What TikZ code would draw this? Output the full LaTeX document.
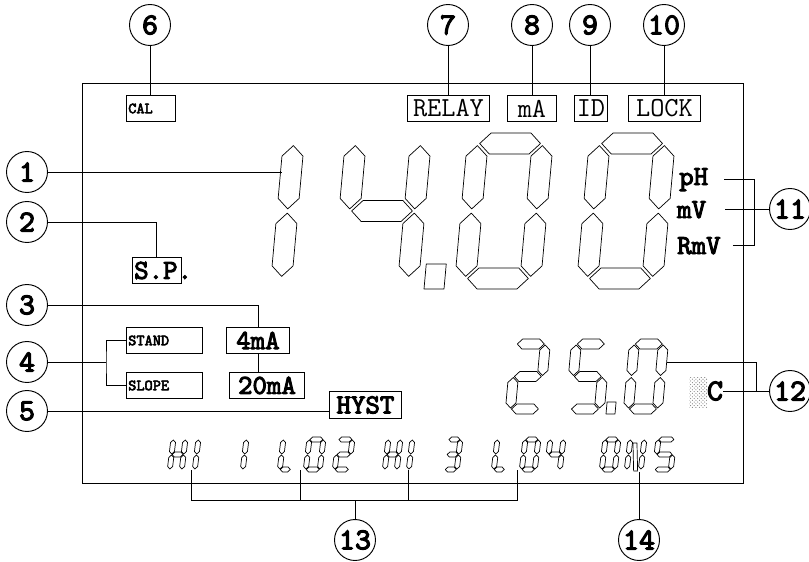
\documentclass[tikz,border=0pt]{standalone}
\usepackage{fontspec}
\newfontfamily\lcdbold[FakeBold=3.5]{lmmono10-regular.otf}
\usetikzlibrary{patterns}
\newcommand\px{0.03cm}
\newcommand\lcdfont{\ttfamily}
\newcommand\lcdbig{\lcdfont\fontsize{23.5}{25}\selectfont}
\newcommand\lcdbigb{\lcdbold\fontsize{23.5}{25}\selectfont}
\newcommand\lcdsmall{\lcdbold\fontsize{13.3}{14}\selectfont}
\tikzset{
  seg/.style={draw=black, line width=0.6pt, line join=round},
  frame/.style={draw=black, line width=0.8pt},
  wire/.style={draw=black, line width=0.8pt},
  num/.style={circle, draw, line width=0.8pt, minimum size=41*\px, inner sep=0pt,
              font=\lcdbold\fontsize{26}{26}\selectfont},
  tagc/.style={draw, line width=0.8pt, anchor=north west, minimum width=#1*\px,
               minimum height=26*\px, inner sep=0pt},
  tagl/.style={draw, line width=0.8pt, anchor=north west, text width=#1,
               minimum height=26*\px, inner xsep=1.5pt, inner ysep=0pt, align=left},
  unit/.style={font=\lcdbigb, inner sep=0pt, anchor=base west}
}
% one segment, horizontal / vertical
\newcommand\hseg[1]{\draw[seg] ({\digT/2+\digG},{#1}) -- ({\digT+\digG},{#1+\digT/2})
  -- ({\digW-\digT-\digG},{#1+\digT/2}) -- ({\digW-\digT/2-\digG},{#1})
  -- ({\digW-\digT-\digG},{#1-\digT/2}) -- ({\digT+\digG},{#1-\digT/2}) -- cycle;}
\newcommand\vseg[3]{\draw[seg] ({#1+\digT/2},{#2+\digG}) -- ({#1+\digT},{#2+\digT/2+\digG})
  -- ({#1+\digT},{#3-\digT/2-\digG}) -- ({#1+\digT/2},{#3-\digG})
  -- ({#1},{#3-\digT/2-\digG}) -- ({#1},{#2+\digT/2+\digG}) -- cycle;}
\newcommand\lcdsegA{\hseg{\digH-\digT/2}}
\newcommand\lcdsegG{\hseg{\digH/2}}
\newcommand\lcdsegD{\hseg{\digT/2}}
\newcommand\lcdsegF{\vseg{0}{\digH/2}{\digH-\digT/2}}
\newcommand\lcdsegB{\vseg{\digW-\digT}{\digH/2}{\digH-\digT/2}}
\newcommand\lcdsegE{\vseg{0}{\digT/2}{\digH/2}}
\newcommand\lcdsegC{\vseg{\digW-\digT}{\digT/2}{\digH/2}}
\newcommand\lcdsegN{\draw[seg] ({\digT*1.1},{\digH-\digT*1.2}) -- ({\digT*1.9},{\digH-\digT*1.2})
  -- ({\digW-\digT*1.1},{\digT*0.2}) -- ({\digW-\digT*1.9},{\digT*0.2}) -- cycle;}
% x0, y0 (bottom left), slant, width, height, thickness, segments
\newcommand\lcd[7]{%
  \begin{scope}[shift={(#1,#2)}, xslant=#3, yscale=-1]
    \def\digW{#4}\def\digH{#5}\def\digT{#6}\pgfmathsetmacro\digG{0.1*#6}
    \foreach \segname in {#7}{\csname lcdseg\segname\endcsname}
  \end{scope}}

\begin{document}
\begin{tikzpicture}[x=0.03cm, y=-0.03cm]
  \useasboundingbox (0,0) rectangle (809,562);
  \draw[frame] (82,83) rectangle (743,483);

  % main reading
  \lcd{205}{289}{0.09}{86}{156}{21}{B,C}
  \lcd{332}{289}{0.09}{86}{156}{21}{B,C,F,G}
  \lcd{454}{289}{0.09}{86}{156}{21}{A,B,C,D,E,F}
  \lcd{576}{289}{0.09}{86}{156}{21}{A,B,C,D,E,F}
  \begin{scope}[shift={(424,289)}, xslant=0.09, yscale=-1]
    \draw[seg] (0,0) rectangle (20,25);
  \end{scope}

  % temperature
  \lcd{505}{414}{0.09}{39}{75}{10}{A,B,G,E,D}
  \lcd{565}{414}{0.09}{39}{75}{10}{A,F,G,C,D}
  \lcd{623}{414}{0.09}{39}{75}{10}{A,B,C,D,E,F}
  \begin{scope}[shift={(606,414)}, xslant=0.09, yscale=-1]
    \draw[seg] (0,0) rectangle (9,12);
  \end{scope}

  % relay line
  \lcd{167}{472}{0.12}{17}{35}{5}{B,C,E,F,G}
  \lcd{192}{472}{0.12}{17}{35}{5}{E,F}
  \lcd{240}{472}{0.12}{17}{35}{5}{E,F}
  \lcd{277}{472}{0.12}{16}{35}{5}{D,E,F}
  \lcd{303}{472}{0.12}{19}{35}{5}{A,B,C,D,E,F}
  \lcd{332}{472}{0.12}{19}{35}{5}{A,B,G,E,D}
  \lcd{382}{472}{0.12}{17}{35}{5}{B,C,E,F,G}
  \lcd{406}{472}{0.12}{17}{35}{5}{E,F}
  \lcd{442}{472}{0.12}{17}{35}{5}{A,B,G,C,D}
  \lcd{491}{472}{0.12}{16}{35}{5}{D,E,F}
  \lcd{519}{472}{0.12}{18}{35}{5}{A,B,C,D,E,F}
  \lcd{544}{472}{0.12}{18}{35}{5}{F,G,B,C}
  \lcd{599}{472}{0.12}{18}{35}{5}{A,B,C,D,E,F}
  \lcd{624}{472}{0.12}{19}{35}{5}{B,C,E,F,N}
  \lcd{652}{472}{0.12}{21}{35}{5}{A,F,G,C,D}

  % annunciators
  \node[tagl=1.36cm, font=\lcdsmall] (cal) at (126,95) {CAL};
  \node[tagc=82, font=\lcdbig] (relay) at (407,95) {RELAY};
  \node[tagc=49, font=\lcdbig] (ma) at (507,95) {mA};
  \node[tagc=33, font=\lcdbig] (id) at (574,95) {ID};
  \node[tagc=72, font=\lcdbig] (lock) at (628,95) {LOCK};
  \node[tagl=1.36cm, font=\lcdbigb] (sp) at (132,257) {S.P\rlap{.}};
  \node[tagl=2.17cm, font=\lcdsmall] (stand) at (126,327) {STAND};
  \node[tagl=2.17cm, font=\lcdsmall] (slope) at (126,372) {SLOPE};
  \node[tagc=63, font=\lcdbigb] (ma4) at (226,327) {4mA};
  \node[tagc=75, font=\lcdbigb] (ma20) at (229,372) {20mA};
  \node[tagc=72, minimum height=27*\px, font=\lcdbigb] (hyst) at (329,391) {HYST};
  \node[unit] (ph) at (679,185) {pH};
  \node[unit] (mv) at (677,218) {mV};
  \node[unit] (rmv) at (677,254) {RmV};
  \node[unit, anchor=center, font=\lcdbold\fontsize{26}{26}\selectfont] (degc) at (715,391) {C};
  \fill[pattern=crosshatch dots, pattern color=black!50] (689,377) rectangle (707,407);

  % callouts
  \node[num] (n1) at (27,172) {1};
  \node[num] (n2) at (27,222) {2};
  \node[num] (n3) at (27,305) {3};
  \node[num] (n4) at (27,362) {4};
  \node[num] (n5) at (27,411) {5};
  \node[num] (n6) at (150,25) {6};
  \node[num] (n7) at (448,25) {7};
  \node[num] (n8) at (532,25) {8};
  \node[num] (n9) at (590,25) {9};
  \node[num] (n10) at (664,25) {10};
  \node[num] (n11) at (790,209) {11};
  \node[num] (n12) at (790,391) {12};
  \node[num] (n13) at (355,540) {13};
  \node[num] (n14) at (639,540) {14};

  \coordinate (one) at (282,172);
  \coordinate (j4) at (106,362);
  \coordinate (k11) at (754,209);
  \coordinate (zero) at (667,362);
  \coordinate (k12) at (756,391);
  \coordinate (bar13) at (355,500);
  \coordinate (ns) at (639,472);
  \foreach \x [count=\i] in {191,300,408,517} \coordinate (tick\i) at (\x,470);

  \draw[wire] (n1) -- (one);
  \draw[wire] (n2) -| (sp.north);
  \draw[wire] (n3) -| (ma4.north);
  \draw[wire] (ma4.south) -- (ma4.south |- ma20.north);
  \draw[wire] (n4) -- (j4);
  \draw[wire] (stand.west) -| (j4) |- (slope.west);
  \draw[wire] (n5) -- (n5 -| hyst.west);
  \draw[wire] (n6) -- (n6 |- cal.north);
  \draw[wire] (n7) -- (n7 |- relay.north);
  \draw[wire] (n8) -- (n8 |- ma.north);
  \draw[wire] (n9) -- (n9 |- id.north);
  \draw[wire] (n10) -- (n10 |- lock.north);
  \draw[wire] ([xshift=16*\px]ph.east) -| (k11);
  \draw[wire] ([xshift=12*\px]rmv.east) -| (k11);
  \draw[wire] ([xshift=19*\px]mv.east) -- (mv.east -| n11.west);
  \draw[wire] (zero) -| (k12);
  \draw[wire] (degc) -- (n12);
  \draw[wire] (tick1) -- (tick1 |- bar13) -| (tick4);
  \draw[wire] (tick2) -- (tick2 |- bar13);
  \draw[wire] (tick3) -- (tick3 |- bar13);
  \draw[wire] (n13) -- (bar13);
  \draw[wire] (ns) -- (n14);
\end{tikzpicture}
\end{document}
